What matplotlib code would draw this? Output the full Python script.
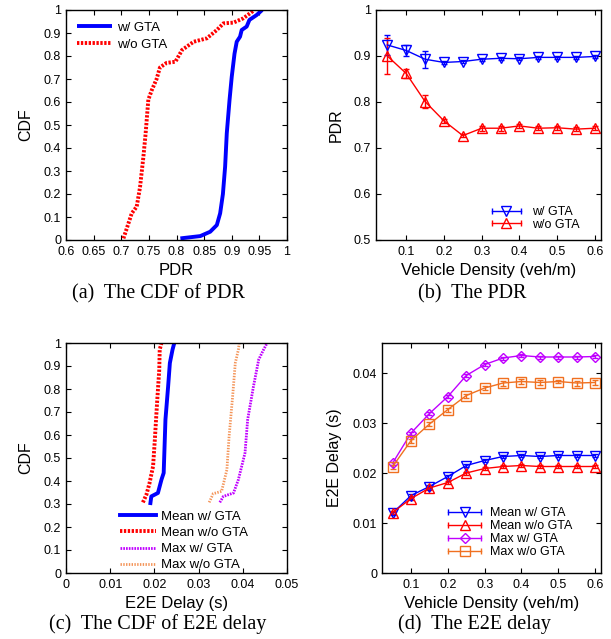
import numpy as np
import matplotlib
matplotlib.use('Agg')
import matplotlib.pyplot as plt
from matplotlib.lines import Line2D
from matplotlib.legend_handler import HandlerLine2D
from matplotlib.ticker import FuncFormatter

plt.rcParams['font.family'] = ['Liberation Sans', 'DejaVu Sans']
plt.rcParams['font.size'] = 9

# (a) CDF of PDR
pdr_gta_x = [0.807, 0.843, 0.861, 0.873, 0.879, 0.884, 0.888, 0.891, 0.896, 0.900,
             0.905, 0.909, 0.915, 0.918, 0.927, 0.932, 0.945, 0.955]
pdr_gta_y = [0.007, 0.017, 0.036, 0.065, 0.116, 0.20, 0.319, 0.464, 0.609, 0.71,
             0.81, 0.862, 0.884, 0.913, 0.928, 0.957, 0.978, 1.0]
pdr_nogta_x = [0.704, 0.709, 0.719, 0.728, 0.734, 0.740, 0.744, 0.749, 0.755, 0.764,
               0.770, 0.782, 0.798, 0.810, 0.831, 0.855, 0.873, 0.885, 0.903, 0.921,
               0.937, 0.940]
pdr_nogta_y = [0.007, 0.043, 0.116, 0.145, 0.23, 0.36, 0.46, 0.61, 0.65, 0.70,
               0.75, 0.77, 0.775, 0.826, 0.862, 0.877, 0.913, 0.942, 0.945, 0.964,
               0.993, 1.0]

# (b) PDR vs density
density = [0.05, 0.1, 0.15, 0.2, 0.25, 0.3, 0.35, 0.4, 0.45, 0.5, 0.55, 0.6]
pdr_gta = [0.924, 0.912, 0.893, 0.886, 0.888, 0.893, 0.895, 0.894, 0.897, 0.897, 0.897, 0.899]
pdr_gta_err = [0.022, 0.013, 0.018, 0.004, 0.004, 0.003, 0.003, 0.003, 0.003, 0.003, 0.003, 0.003]
pdr_nogta = [0.900, 0.862, 0.801, 0.759, 0.727, 0.743, 0.743, 0.748, 0.743, 0.744, 0.741, 0.743]
pdr_nogta_err = [0.04, 0.009, 0.014, 0.005, 0.004, 0.005, 0.005, 0.004, 0.004, 0.004, 0.004, 0.004]

# (c) CDF of E2E delay
mean_gta_x = [0.0191, 0.0193, 0.0208, 0.0216, 0.0221, 0.0225, 0.0231, 0.0235, 0.0241, 0.0245]
mean_gta_y = [0.304, 0.333, 0.348, 0.406, 0.435, 0.667, 0.81, 0.913, 0.971, 1.0]
mean_nogta_x = [0.0174, 0.0182, 0.0189, 0.0197, 0.0201, 0.0206, 0.0211, 0.0212, 0.0216]
mean_nogta_y = [0.307, 0.341, 0.391, 0.464, 0.58, 0.739, 0.884, 0.971, 1.0]
max_gta_x = [0.0348, 0.0356, 0.0379, 0.039, 0.0405, 0.0411, 0.0424, 0.0436, 0.0447, 0.0455]
max_gta_y = [0.307, 0.333, 0.348, 0.406, 0.522, 0.667, 0.81, 0.928, 0.971, 1.0]
max_nogta_x = [0.0324, 0.0333, 0.0352, 0.0364, 0.0369, 0.0377, 0.0383, 0.039, 0.0392]
max_nogta_y = [0.307, 0.345, 0.355, 0.449, 0.594, 0.768, 0.913, 0.971, 1.0]

# (d) E2E delay vs density
delay_mean_gta = [0.012, 0.0155, 0.0173, 0.0193, 0.0215, 0.0225, 0.0233, 0.0235, 0.0233, 0.0235, 0.0235, 0.0235]
delay_mean_nogta = [0.0121, 0.0149, 0.017, 0.0181, 0.020, 0.0209, 0.0213, 0.0215, 0.0213, 0.0213, 0.0213, 0.0213]
delay_max_gta = [0.022, 0.028, 0.0319, 0.0353, 0.0395, 0.0417, 0.043, 0.0435, 0.0432, 0.0432, 0.0432, 0.0433]
delay_max_nogta = [0.0213, 0.0265, 0.0298, 0.0327, 0.0355, 0.037, 0.038, 0.0383, 0.0381, 0.0383, 0.038, 0.0381]
delay_mean_err = [0.0003] * 12
delay_max_gta_err = [0.0003] * 12
delay_max_nogta_err = [0.0004, 0.0004, 0.0004, 0.0004, 0.0004, 0.0004, 0.0005, 0.0005, 0.0005, 0.0003, 0.0005, 0.0005]

BLUE = '#0000ff'
RED = '#ff0000'
PURPLE = '#c000ff'
ORANGE = '#f07020'

fig = plt.figure(figsize=(6.11, 6.39), dpi=100)
W, H = 611.0, 639.0


def make_ax(l, r, t, b):
    return fig.add_axes([l / W, 1 - b / H, (r - l) / W, (b - t) / H])


def style(ax):
    ax.tick_params(direction='in', top=True, right=True, length=3.5, width=0.8,
                   labelsize=9)
    ax.tick_params(axis='x', pad=4)
    ax.tick_params(axis='y', pad=3.5)
    for s in ax.spines.values():
        s.set_linewidth(1.0)


gfmt = FuncFormatter(lambda v, p: ('%g' % round(v, 4)))

ax_a = make_ax(66, 287, 10, 240)
ax_b = make_ax(376, 601, 10, 240)
ax_c = make_ax(66, 287, 343, 573)
ax_d = make_ax(382, 601, 343, 573)

XL = 12
YL = 11.5
LP = 4

# (a)
ax_a.plot(pdr_gta_x, pdr_gta_y, color=BLUE, lw=2.8, label='w/ GTA', solid_capstyle='butt')
ax_a.plot(pdr_nogta_x, pdr_nogta_y, color=RED, lw=2.8, ls=(0, (0.6, 0.4)), label='w/o GTA')
ax_a.set_xlim(0.6, 1.0)
ax_a.set_ylim(0, 1)
ax_a.set_xticks(np.arange(0.6, 1.001, 0.05))
ax_a.set_yticks(np.arange(0, 1.001, 0.1))
ax_a.xaxis.set_major_formatter(gfmt)
ax_a.yaxis.set_major_formatter(gfmt)
ax_a.set_xlabel('PDR', fontsize=XL, labelpad=LP)
ax_a.set_ylabel('CDF', fontsize=YL, labelpad=7.5)
style(ax_a)
ax_a.legend(loc='upper left', bbox_to_anchor=(0.05, 0.95), frameon=False, handlelength=2.65,
            handletextpad=0.4, labelspacing=0.35, borderaxespad=0, borderpad=0, fontsize=9.5)

# (b)
ebkw = dict(lw=1.0, capsize=2, elinewidth=1.0, capthick=1.0, markersize=7,
            markerfacecolor='none', markeredgewidth=1.0)
ax_b.errorbar(density, pdr_gta, yerr=pdr_gta_err, color=BLUE, marker='v', **ebkw)
ax_b.errorbar(density, pdr_nogta, yerr=pdr_nogta_err, color=RED, marker='^', **ebkw)
ax_b.set_xlim(0.02, 0.616)
ax_b.set_ylim(0.5, 1.0)
ax_b.set_xticks(density[1::2])
ax_b.set_yticks(np.arange(0.5, 1.001, 0.1))
ax_b.xaxis.set_major_formatter(gfmt)
ax_b.yaxis.set_major_formatter(gfmt)
ax_b.set_xlabel('Vehicle Density (veh/m)', fontsize=XL, labelpad=LP)
ax_b.set_ylabel('PDR', fontsize=YL, labelpad=7.5)
style(ax_b)


def eb_legend(items):
    handles = []
    hmap = {}
    for color, marker, ms in items:
        caps = Line2D([], [], color=color, lw=1.0, marker='|', markersize=5, markeredgewidth=1.0)
        mk = Line2D([], [], color=color, lw=0, marker=marker, markersize=ms,
                    markerfacecolor='none', markeredgewidth=1.0)
        hmap[caps] = HandlerLine2D(numpoints=2)
        hmap[mk] = HandlerLine2D(numpoints=1)
        handles.append((caps, mk))
    return handles, hmap


hb, mb = eb_legend([(BLUE, 'v', 7), (RED, '^', 7)])
ax_b.legend(hb, ['w/ GTA', 'w/o GTA'], handler_map=mb, loc='lower left',
            bbox_to_anchor=(0.498, 0.04), frameon=False, handlelength=2.9,
            handletextpad=0.6, labelspacing=0.05, fontsize=9, borderaxespad=0, borderpad=0)

# (c)
ax_c.plot(mean_gta_x, mean_gta_y, color=BLUE, lw=2.8, label='Mean w/ GTA')
ax_c.plot(mean_nogta_x, mean_nogta_y, color=RED, lw=2.8, ls=(0, (0.6, 0.4)), label='Mean w/o GTA')
ax_c.plot(max_gta_x, max_gta_y, color=PURPLE, lw=2.0, ls=(0, (0.6, 0.4)), label='Max w/ GTA')
ax_c.plot(max_nogta_x, max_nogta_y, color=ORANGE, lw=2.0, ls=(0, (0.5, 0.5)), alpha=0.75,
          label='Max w/o GTA')
ax_c.set_xlim(0, 0.05)
ax_c.set_ylim(0, 1)
ax_c.set_xticks(np.arange(0, 0.0501, 0.01))
ax_c.set_yticks(np.arange(0, 1.001, 0.1))
ax_c.xaxis.set_major_formatter(gfmt)
ax_c.yaxis.set_major_formatter(gfmt)
ax_c.set_xlabel('E2E Delay (s)', fontsize=XL, labelpad=LP)
ax_c.set_ylabel('CDF', fontsize=YL, labelpad=7.5)
style(ax_c)
ax_c.legend(loc='lower left', bbox_to_anchor=(0.244, 0.007), frameon=False, handlelength=2.7,
            handletextpad=0.45, labelspacing=0.3, fontsize=9.5, borderaxespad=0, borderpad=0)

# (d)
ebkw2 = dict(lw=1.0, capsize=2, elinewidth=1.0, capthick=1.0,
             markerfacecolor='none', markeredgewidth=1.0)
ax_d.errorbar(density, delay_mean_gta, yerr=delay_mean_err, color=BLUE, marker='v', markersize=7, **ebkw2)
ax_d.errorbar(density, delay_mean_nogta, yerr=delay_mean_err, color=RED, marker='^', markersize=7, **ebkw2)
ax_d.errorbar(density, delay_max_gta, yerr=delay_max_gta_err, color=PURPLE, marker='D', markersize=5.5, **ebkw2)
ax_d.errorbar(density, delay_max_nogta, yerr=delay_max_nogta_err, color=ORANGE, marker='s', markersize=7, **ebkw2)
ax_d.set_xlim(0.021, 0.616)
ax_d.set_ylim(0, 0.046)
ax_d.set_xticks(density[1::2])
ax_d.set_yticks(np.arange(0, 0.0401, 0.01))
ax_d.xaxis.set_major_formatter(gfmt)
ax_d.yaxis.set_major_formatter(gfmt)
ax_d.set_xlabel('Vehicle Density (veh/m)', fontsize=XL, labelpad=LP)
ax_d.set_ylabel('E2E Delay (s)', fontsize=YL, labelpad=7.5)
style(ax_d)
hd, md = eb_legend([(BLUE, 'v', 7), (RED, '^', 7), (PURPLE, 'D', 5.5), (ORANGE, 's', 7)])
ax_d.legend(hd, ['Mean w/ GTA', 'Mean w/o GTA', 'Max w/ GTA', 'Max w/o GTA'], handler_map=md,
            loc='lower left', bbox_to_anchor=(0.283, 0.065), frameon=False, handlelength=3.3,
            handletextpad=0.4, labelspacing=0.08, fontsize=9, borderaxespad=0, borderpad=0)

# captions
cap = dict(fontsize=14.5, family=['Liberation Serif', 'DejaVu Serif'], ha='center', va='center')
fig.text(158 / W, 1 - 294 / H, '(a)  The CDF of PDR', **cap)
fig.text(472 / W, 1 - 294 / H, '(b)  The PDR', **cap)
fig.text(158 / W, 1 - 624 / H, '(c)  The CDF of E2E delay', **cap)
fig.text(474 / W, 1 - 624 / H, '(d)  The E2E delay', **cap)

fig.savefig('out.png', dpi=100)
